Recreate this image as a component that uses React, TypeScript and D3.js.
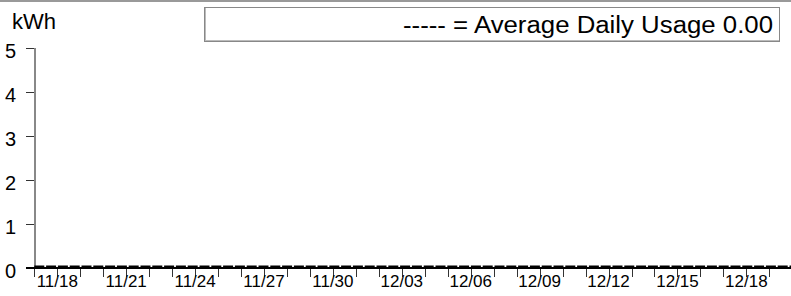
import { useRef, useEffect } from "react";
import { select, scaleLinear, scalePoint, line } from "d3";

// Days shown on the axis
const days = [
  "11/17", "11/18", "11/19", "11/20", "11/21", "11/22", "11/23", "11/24",
  "11/25", "11/26", "11/27", "11/28", "11/29", "11/30", "12/01", "12/02",
  "12/03", "12/04", "12/05", "12/06", "12/07", "12/08", "12/09", "12/10",
  "12/11", "12/12", "12/13", "12/14", "12/15", "12/16", "12/17", "12/18",
  "12/19", "12/20",
];
// Daily usage in kWh (all zero in the picture)
const usage = [
  0, 0, 0, 0, 0, 0, 0, 0, 0, 0, 0, 0, 0, 0, 0, 0, 0, 0, 0, 0, 0, 0, 0, 0,
  0, 0, 0, 0, 0, 0, 0, 0, 0, 0,
];
const averageUsage = 0.0;
const yTicks = [0, 1, 2, 3, 4, 5];
const labeledDays = [
  "11/18", "11/21", "11/24", "11/27", "11/30", "12/03", "12/06", "12/09",
  "12/12", "12/15", "12/18",
];

const W = 791;
const H = 296;
const FONT = "'Liberation Sans', Arial, sans-serif";

export default function App() {
  const svgRef = useRef<SVGSVGElement | null>(null);

  useEffect(() => {
    const svg = select(svgRef.current);
    svg.selectAll("*").remove();

    // Scales
    const x = scalePoint<string>().domain(days).range([34.3, 792.3]);
    const y = scaleLinear().domain([0, 5]).range([268, 48]);

    // top rule
    svg.append("line")
      .attr("x1", 0).attr("x2", W).attr("y1", 1).attr("y2", 1)
      .attr("stroke", "#999").attr("stroke-width", 2);

    // unit label
    svg.append("text")
      .attr("x", 12).attr("y", 29)
      .attr("font-family", FONT).attr("font-size", 22)
      .attr("textLength", 44).attr("lengthAdjust", "spacingAndGlyphs")
      .text("kWh");

    // legend box
    const lg = svg.append("g");
    lg.append("rect")
      .attr("x", 204.5).attr("y", 7.5).attr("width", 575).attr("height", 34)
      .attr("fill", "#fff").attr("stroke", "#888");
    lg.append("line")
      .attr("x1", 205.5).attr("x2", 205.5).attr("y1", 8).attr("y2", 41)
      .attr("stroke", "#bbb");
    lg.append("line")
      .attr("x1", 205).attr("x2", 779).attr("y1", 40.5).attr("y2", 40.5)
      .attr("stroke", "#bbb");
    lg.append("text")
      .attr("x", 403).attr("y", 33)
      .attr("font-family", FONT).attr("font-size", 23)
      .attr("textLength", 370).attr("lengthAdjust", "spacingAndGlyphs")
      .text(`----- = Average Daily Usage ${averageUsage.toFixed(2)}`);

    // y axis
    const ya = svg.append("g");
    ya.append("line")
      .attr("x1", 35).attr("x2", 35).attr("y1", y(5)).attr("y2", y(0))
      .attr("stroke", "#888").attr("stroke-width", 2);
    ya.selectAll(".yt")
      .data(yTicks)
      .join("line")
      .attr("x1", 26).attr("x2", 34)
      .attr("y1", (d) => Math.round(y(d)) + 0.5)
      .attr("y2", (d) => Math.round(y(d)) + 0.5)
      .attr("stroke", "#333");
    ya.selectAll(".yl")
      .data(yTicks)
      .join("text")
      .attr("x", 16).attr("y", (d) => y(d) + 10)
      .attr("text-anchor", "end")
      .attr("font-family", FONT).attr("font-size", 20)
      .text((d) => d);

    // x axis
    const xa = svg.append("g");
    xa.selectAll(".xt")
      .data(days.slice(0, days.length - 1))
      .join("line")
      .attr("x1", (d) => Math.round(x(d)!) + 0.5)
      .attr("x2", (d) => Math.round(x(d)!) + 0.5)
      .attr("y1", 268).attr("y2", 277)
      .attr("stroke", "#333");
    xa.selectAll(".xl")
      .data(labeledDays)
      .join("text")
      .attr("x", (d) => x(d)!)
      .attr("y", 287)
      .attr("text-anchor", "middle")
      .attr("font-family", FONT).attr("font-size", 17)
      .text((d) => d);
    xa.append("line")
      .attr("x1", 26).attr("x2", W).attr("y1", 268).attr("y2", 268)
      .attr("stroke", "#000").attr("stroke-width", 2);

    // usage line
    const usageLine = line<number>()
      .x((_, i) => x(days[i])!)
      .y((d) => y(d) - 1.8);
    svg.append("path")
      .datum(usage)
      .attr("d", usageLine)
      .attr("fill", "none")
      .attr("stroke", "#000")
      .attr("stroke-width", 1.5)
      .attr("stroke-dasharray", "10,1.8");
  }, []);

  return (
    <svg
      ref={svgRef}
      width={W}
      height={H}
      style={{ position: "absolute", left: 0, top: 0, background: "#fff" }}
    />
  );
}
